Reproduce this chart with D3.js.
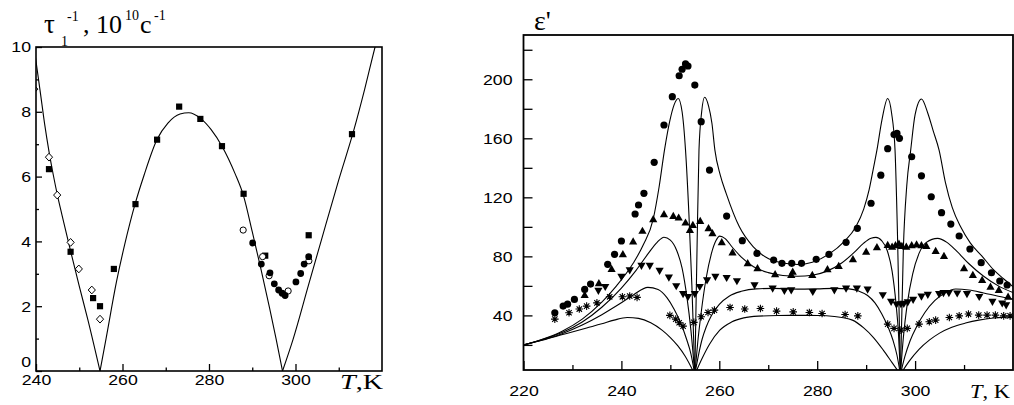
<!DOCTYPE html>
<html>
<head>
<meta charset="utf-8">
<script src="https://cdn.jsdelivr.net/npm/d3@7"></script>
<style>
  html, body { margin: 0; padding: 0; background: #fff; }
  svg { display: block; }
  text, tspan { fill: #000; }
</style>
</head>
<body>
<svg id="chart" width="1014" height="405"></svg>
<script>
// ---------- Left panel: relaxation rate tau1^-1 (10^10 s^-1) vs T (K) ----------
const tauSquares = [[243.0, 6.23], [248.0, 3.68], [253.2, 2.25], [254.8, 2.0], [258.0, 3.15], [263.0, 5.15],
  [268.0, 7.14], [273.1, 8.16], [278.0, 7.78], [283.0, 6.94], [288.0, 5.47], [293.0, 3.56], [303.05, 4.19], [313.06, 7.31]];
const tauDiamonds = [[239.6, 8.7], [243.0, 6.6], [244.9, 5.43], [248.0, 3.97], [249.9, 3.15], [252.9, 2.5], [254.8, 1.6]];
const tauOpenCircles = [[287.9, 4.35], [292.4, 3.53], [293.9, 2.94], [298.3, 2.47], [303.1, 3.40]];
const tauFilledCircles = [[290.1, 3.95], [292.1, 3.30], [294.1, 3.03], [295.1, 2.69], [296.1, 2.5], [296.9, 2.4],
  [297.6, 2.33], [300.1, 2.75], [301.2, 3.01], [302.0, 3.30], [303.05, 3.53]];
const tauFit = [[239.8, 9.75], [241, 8.6], [242, 7.62], [243, 6.78], [244, 6.05], [245, 5.4], [246, 4.82], [248, 3.7],
  [250, 2.62], [252, 1.58], [254.8, 0],
  [256.2, 1.0], [258.6, 2.75], [260.5, 3.9], [262.9, 5.15], [265, 6.05], [268, 7.15], [270.5, 7.65], [273.3, 7.93],
  [275.3, 7.97], [278.1, 7.79], [280.5, 7.45], [283, 6.94], [286, 6.1], [288, 5.4], [290, 4.3], [292, 3.15],
  [294, 1.95], [295.5, 1.0], [297, 0],
  [299.4, 0.96], [303, 2.65], [306, 4.05], [310, 5.9], [313.5, 7.44], [316, 8.7], [318.4, 10], [319, 10.3]];
const leftXTicks = [240, 260, 280, 300];
const leftXMinor = [250, 270, 290, 310];
const leftYTicks = [0, 2, 4, 6, 8, 10];
const leftYMinor = [1, 3, 5, 7, 9];

// ---------- Right panel: permittivity eps' vs T (K) ----------
const epsCircles = [[226.4, 41.8], [228.1, 46.3], [229.0, 47.6], [230.4, 50.8], [232.5, 57.6], [233.7, 61.2],
  [237.2, 74.6], [238.6, 81.4], [240.0, 90.4], [242.8, 108.7], [243.5, 114.8], [244.6, 122.7], [246.7, 143.7],
  [248.7, 169], [250.4, 188.2], [251.8, 202.4], [252.4, 206.8], [253.1, 210.4], [253.6, 209], [255.0, 196.1],
  [256.3, 171.3], [258.0, 138.5], [261.5, 107.3], [264.7, 90.6], [267.7, 82], [271.1, 77.5], [272.8, 75.3],
  [274.8, 75.3], [276.8, 75.3], [279.8, 78], [282.4, 81.4], [285.9, 89.5], [288.2, 99], [291.0, 116], [293.0, 135],
  [294.4, 153], [295.7, 162.5], [296.3, 163.3], [296.8, 160], [299.3, 147.5], [301.3, 134.6], [303.3, 120.4],
  [305.4, 109.6], [307.3, 101.9], [309.0, 93.8], [311.2, 85], [313.5, 75.7], [315.6, 68.9], [317.3, 63.3], [318.8, 60.6]];
const epsUpTriangles = [[232.5, 53.8], [235.4, 61.7], [238.0, 71.4], [240.3, 81.4], [242.4, 90], [244.3, 97.2],
  [246.5, 105.1], [248.7, 108.5], [250.6, 107.3], [251.7, 106.2], [253.1, 102.8], [254.0, 97.8], [254.6, 101.2],
  [256.1, 103.9], [257.8, 99], [258.6, 95.6], [260.5, 89.5], [262.7, 82.5], [265.8, 75.3], [267.8, 71.9],
  [271.4, 67.8], [274.7, 67.3], [275.0, 69.5], [279.0, 67.3], [282.1, 71.2], [284.4, 73.4], [287.3, 78], [290.0, 83.1],
  [292.2, 86.1], [294.4, 87.7], [295.3, 86.5], [296.0, 87.5], [296.7, 88.5], [297.3, 87], [298.2, 86.5], [299.3, 87.5],
  [300.3, 88], [301.3, 87.5], [302.3, 87], [304.2, 83.6], [305.9, 80.2], [310.0, 71.9], [311.8, 67.3], [313.7, 63.9],
  [315.4, 59.4], [317.1, 57.1], [319.0, 52.6]];
const epsDownTriangles = [[235.3, 56.7], [236.7, 59.4], [240.0, 66.2], [241.7, 70.7], [244.1, 73.7], [245.8, 73.7],
  [247.8, 70.3], [249.7, 65.8], [251.2, 59.9], [252.6, 54.5], [253.6, 52.6], [255.0, 54.5], [256.0, 59.4],
  [257.5, 63.9], [259.2, 66.2], [261.5, 65.5], [263.6, 63.3], [267.2, 60.5], [270.9, 58.3], [273.3, 56.7],
  [274.7, 57.1], [279.1, 56.0], [283.5, 57.1], [285.9, 58.3], [288.1, 58.3], [290.3, 57.6], [293.4, 53.8],
  [295.1, 49.3], [296.2, 47.5], [297.1, 47.7], [297.7, 48.0], [298.5, 49], [299.6, 50.6], [301.3, 52.9],
  [302.6, 54.0], [304.9, 54.5], [305.8, 55.3], [306.9, 55.3], [308.6, 55.0], [310.6, 54.5], [313.1, 52.6],
  [315.8, 49.3], [317.8, 48.2], [318.6, 47.0]];
const epsStars = [[226.4, 37.5], [229.3, 41.8], [231.4, 44.3], [232.9, 46.3], [235.0, 48.5], [237.6, 52.6],
  [240.2, 52.6], [241.7, 53.1], [243.2, 52.2], [249.9, 40.0], [251.1, 37.5], [251.8, 35.0], [252.6, 32.7],
  [254.8, 35.3], [256.3, 39.1], [257.7, 42.0], [259.0, 43.6], [262.2, 45.4], [265.2, 44.3], [268.4, 44.7],
  [271.7, 42.9], [275.1, 42.4], [278.4, 42.0], [281.0, 41.3], [285.7, 40.6], [288.3, 39.7], [294.4, 34.1],
  [295.7, 31.2], [297.1, 30.0], [298.4, 31.2], [300.8, 34.1], [302.9, 35.7], [304.2, 36.8], [307.0, 38.6],
  [309.0, 39.7], [310.9, 40.9], [313.0, 40.2], [314.7, 40.2], [316.4, 40.2], [318.1, 39.7], [319.4, 39.7]];

// model curves, one per frequency; each dips to zero at the two transitions
const epsFit1 = [[220, 20], [224, 24], [228, 29.5], [232, 37.5], [236, 49], [239, 60], [242.4, 75.3], [244.5, 88],
  [246.5, 105.3], [247.7, 127], [248.8, 152], [249.9, 172], [250.8, 183], [251.6, 187], [252.4, 178], [253.1, 152],
  [253.8, 108], [254.4, 60], [255, 0],
  [255.45, 85], [255.85, 152], [256.4, 178], [257.0, 187.8], [257.8, 182], [258.5, 170], [259.1, 152], [260.2, 135],
  [261.4, 122.7], [264.1, 100], [266.9, 86.6], [270, 78.5], [273, 75.5], [276, 74.5], [279, 76], [282.4, 81.5],
  [285.5, 90], [287.9, 100], [289.5, 112], [290.6, 125], [291.5, 140], [292.2, 152], [293.2, 172], [294.4, 187],
  [295.2, 177], [295.9, 152], [296.4, 95], [297, 0],
  [297.6, 85], [298.3, 128], [299.1, 152], [300, 176], [301.3, 186.6], [302.6, 177], [303.7, 165], [304.9, 152],
  [306.2, 130], [307.6, 113], [309.3, 100], [311.3, 89], [313.7, 80], [316, 71], [318, 65], [320, 59.5]];
const epsFit2 = [[220, 20], [224, 23.8], [228, 28.5], [232, 35.5], [236, 45.5], [240, 58.5], [243, 70.5],
  [245.5, 82], [247.3, 89.5], [248.7, 93], [250, 91], [251.3, 84], [252.4, 72], [253.4, 52], [254.2, 30], [255, 0],
  [255.6, 22], [256.3, 42], [257.3, 65], [258.4, 82], [259.3, 90.5], [260.1, 93.7], [261.2, 92], [262.7, 86],
  [264.5, 79.5], [267, 73], [270, 69], [273, 67], [276, 66.5], [279, 67.2], [282, 70], [285, 75.5], [287.5, 82.5],
  [289.5, 89], [291, 92.3], [292, 92.9], [293.2, 90.5], [294.3, 84], [295.3, 70], [296.1, 48], [296.6, 28], [297, 0],
  [297.6, 25], [298.4, 48], [299.5, 68], [300.8, 82], [302.3, 89.5], [304.6, 92.2], [306.5, 89.5], [308.5, 83.5],
  [311, 75], [314, 66.5], [317, 60], [320, 55.5]];
const epsFit3 = [[220, 20], [224, 23.5], [228, 27.8], [232, 33.5], [236, 40.5], [239.5, 47.5], [242.5, 54],
  [245.4, 59], [247.5, 57.5], [249.3, 52], [250.8, 44], [252.1, 35], [253.3, 24], [254.2, 14], [255, 0],
  [255.8, 14], [256.5, 24], [257.3, 32], [258.4, 40], [260, 47.5], [262, 53], [264.5, 56.3], [267.5, 58],
  [271, 58.3], [276, 57.8], [280, 58], [283.5, 58.3], [286.5, 58], [288.5, 56.5], [290.3, 53.5], [291.8, 48.5],
  [293.2, 41], [294.5, 32], [295.5, 23], [296.3, 13], [297, 0],
  [297.9, 12], [299, 23], [300.4, 33], [302, 42], [304, 50], [306, 55], [308.3, 57.9], [311, 57.2], [314, 55.2],
  [317, 53], [320, 51]];
const epsFit4 = [[220, 20], [224, 23.3], [228, 27], [232.9, 31.5], [236, 34.3], [238.5, 36.8], [241.2, 38.6],
  [243.5, 38], [246, 35], [248.3, 30], [250, 25], [251.5, 19.5], [253, 12.5], [255, 0],
  [256.5, 11], [258, 20.5], [260.1, 30], [262.5, 35.5], [265, 38.3], [268, 39.5], [272, 39.9], [276, 40],
  [280, 39.9], [283.5, 39.3], [287.2, 36.8], [289.5, 31.5], [291.5, 25], [293.5, 16.5], [295.3, 8], [297, 0],
  [298.8, 9], [300.8, 17], [302.9, 23.2], [305, 28], [307.5, 32], [310.3, 34.8], [313, 36.8], [316, 38.2],
  [318.5, 38.8], [320, 39]];
const rightXTicks = [220, 240, 260, 280, 300];
const rightXMinor = [230, 250, 270, 290, 310];
const rightYTicks = [20, 40, 60, 80, 100, 120, 140, 160, 180, 200, 220];
const rightYLabels = [40, 80, 120, 160, 200];

// ---------- drawing ----------
const svg = d3.select("#chart");
svg.append("rect").attr("width", 1014).attr("height", 405).attr("fill", "#fff");

const xL = d3.scaleLinear().domain([240, 320]).range([36, 382]);
const yL = d3.scaleLinear().domain([0, 10]).range([371, 47]);
const xR = d3.scaleLinear().domain([220, 320]).range([523.5, 1013]);
const yR = d3.scaleLinear().domain([3, 230]).range([370, 35]);

const SANS = '"Liberation Sans", Arial, sans-serif';
const SERIF = '"Liberation Serif", "Times New Roman", serif';
const STRETCH = 1.18;

function stretchLabels(sel) {
  sel.selectAll(".tick text").each(function () {
    const t = d3.select(this);
    const x = +t.attr("x") || 0;
    t.attr("transform", `translate(${x * (1 - STRETCH)},0) scale(${STRETCH},1)`);
  });
}

function drawAxis(axis, transform) {
  const g = svg.append("g").attr("transform", transform).call(axis);
  g.select(".domain").remove();
  g.attr("font-family", SANS).attr("font-size", 15);
  g.selectAll(".tick line").attr("stroke", "#000").attr("stroke-width", 1.3);
  g.selectAll(".tick text").attr("fill", "#000");
  stretchLabels(g);
  return g;
}

// split a curve into branches at its zero points so the cusps stay sharp
function branches(pts) {
  const out = [];
  let cur = [];
  pts.forEach((p, i) => {
    cur.push(p);
    if (p[1] === 0 && i > 0 && i < pts.length - 1) { out.push(cur); cur = [p]; }
  });
  out.push(cur);
  return out;
}

const defs = svg.append("defs");
defs.append("clipPath").attr("id", "clipL").append("rect")
  .attr("x", xL(240)).attr("y", yL(10)).attr("width", xL(320) - xL(240)).attr("height", yL(0) - yL(10));
defs.append("clipPath").attr("id", "clipR").append("rect")
  .attr("x", xR(220)).attr("y", yR(230)).attr("width", xR(320) - xR(220)).attr("height", yR(3) - yR(230));

// marker shapes
const square = s => `M${-s},${-s}H${s}V${s}H${-s}Z`;
const diamond = (w, h) => `M0,${-h}L${w},0L0,${h}L${-w},0Z`;
const triUp = (w, h) => `M0,${-h * 0.6}L${w},${h * 0.4}L${-w},${h * 0.4}Z`;
const triDown = (w, h) => `M0,${h * 0.6}L${w},${-h * 0.4}L${-w},${-h * 0.4}Z`;
const star = r => {
  const d = r * Math.SQRT1_2;
  return `M0,${-r}V${r}M${-r},0H${r}M${-d},${-d}L${d},${d}M${-d},${d}L${d},${-d}`;
};

function markers(g, data, xs, ys, path, fill, stroke, sw) {
  g.selectAll(null).data(data).enter().append("path")
    .attr("transform", d => `translate(${xs(d[0])},${ys(d[1])})`)
    .attr("d", path)
    .attr("fill", fill).attr("stroke", stroke).attr("stroke-width", sw);
}

// ----- left panel -----
const gL = svg.append("g").attr("clip-path", "url(#clipL)");
const lineL = d3.line().x(d => xL(d[0])).y(d => yL(d[1])).curve(d3.curveMonotoneX);
branches(tauFit).forEach(b => gL.append("path").attr("d", lineL(b))
  .attr("fill", "none").attr("stroke", "#000").attr("stroke-width", 1.1));
markers(gL, tauSquares, xL, yL, square(3.1), "#000", "none", 0);
markers(gL, tauDiamonds, xL, yL, diamond(3.6, 3.9), "#fff", "#000", 1);
markers(gL, tauOpenCircles, xL, yL, d3.symbol(d3.symbolCircle, Math.PI * 3.1 * 3.1)(), "#fff", "#000", 1);
markers(gL, tauFilledCircles, xL, yL, d3.symbol(d3.symbolCircle, Math.PI * 3.4 * 3.4)(), "#000", "none", 0);

drawAxis(d3.axisBottom(xL).tickValues(leftXTicks).tickSizeInner(-7).tickSizeOuter(0).tickPadding(3)
  .tickFormat(d3.format("d")), `translate(0,${yL(0)})`);
drawAxis(d3.axisBottom(xL).tickValues(leftXMinor).tickSizeInner(-3.5).tickSizeOuter(0).tickFormat(""),
  `translate(0,${yL(0)})`);
const yAxisL = drawAxis(d3.axisLeft(yL).tickValues(leftYTicks).tickSizeInner(-6).tickSizeOuter(0).tickPadding(5)
  .tickFormat(d3.format("d")), `translate(${xL(240)},0)`);
// the "0" label sits a little above the corner so it clears the "240" below it
yAxisL.selectAll(".tick").filter(d => d === 0).select("text").attr("y", -9).attr("dy", "0.32em");
drawAxis(d3.axisLeft(yL).tickValues(leftYMinor).tickSizeInner(-3).tickSizeOuter(0).tickFormat(""),
  `translate(${xL(240)},0)`);
svg.append("rect").attr("x", xL(240)).attr("y", yL(10)).attr("width", xL(320) - xL(240))
  .attr("height", yL(0) - yL(10)).attr("fill", "none").attr("stroke", "#000").attr("stroke-width", 1.6);

// left titles
const tl = svg.append("text").attr("font-family", SERIF).attr("fill", "#000");
tl.append("tspan").attr("x", 44).attr("y", 33).attr("font-size", 27).attr("fill", "#000").text("τ");
tl.append("tspan").attr("x", 61).attr("y", 46).attr("font-size", 14).attr("fill", "#000").text("1");
tl.append("tspan").attr("x", 67).attr("y", 21).attr("font-size", 14).attr("fill", "#000").text("-1");
tl.append("tspan").attr("x", 83).attr("y", 33).attr("font-size", 26).attr("fill", "#000").text(", 10");
tl.append("tspan").attr("x", 125).attr("y", 20).attr("font-size", 14).attr("fill", "#000").text("10");
tl.append("tspan").attr("x", 140).attr("y", 33).attr("font-size", 26).attr("fill", "#000").text("c");
tl.append("tspan").attr("x", 154).attr("y", 20).attr("font-size", 14).attr("fill", "#000").text("-1");

const tk = svg.append("text").attr("font-family", SERIF).attr("font-size", 20).attr("fill", "#000")
  .attr("x", 340).attr("y", 389).attr("textLength", 43).attr("lengthAdjust", "spacingAndGlyphs");
tk.append("tspan").attr("font-style", "italic").text("T");
tk.append("tspan").text(",K");

// ----- right panel -----
const gR = svg.append("g").attr("clip-path", "url(#clipR)");
const lineR = d3.line().x(d => xR(d[0])).y(d => yR(d[1])).curve(d3.curveMonotoneX);
[epsFit1, epsFit2, epsFit3, epsFit4].forEach(c =>
  branches(c).forEach(b => gR.append("path").attr("d", lineR(b))
    .attr("fill", "none").attr("stroke", "#000").attr("stroke-width", 1.1)));
markers(gR, epsStars, xR, yR, star(3.8), "none", "#000", 1.1);
markers(gR, epsDownTriangles, xR, yR, triDown(4.1, 7.2), "#000", "none", 0);
markers(gR, epsUpTriangles, xR, yR, triUp(4.1, 7.2), "#000", "none", 0);
markers(gR, epsCircles, xR, yR, d3.symbol(d3.symbolCircle, Math.PI * 3.6 * 3.6)(), "#000", "none", 0);

drawAxis(d3.axisBottom(xR).tickValues(rightXTicks).tickSizeInner(-9).tickSizeOuter(0).tickPadding(15)
  .tickFormat(d3.format("d")), `translate(0,${yR(3)})`);
drawAxis(d3.axisBottom(xR).tickValues(rightXMinor).tickSizeInner(-5).tickSizeOuter(0).tickFormat(""),
  `translate(0,${yR(3)})`);
drawAxis(d3.axisLeft(yR).tickValues(rightYTicks).tickSizeInner(-9).tickSizeOuter(0).tickPadding(11)
  .tickFormat(d => rightYLabels.includes(d) ? d : ""), `translate(${xR(220)},0)`);
svg.append("rect").attr("x", xR(220)).attr("y", yR(230)).attr("width", xR(320) - xR(220))
  .attr("height", yR(3) - yR(230)).attr("fill", "none").attr("stroke", "#000").attr("stroke-width", 1.8);

svg.append("text").attr("font-family", SERIF).attr("font-size", 28).attr("fill", "#000")
  .attr("x", 534).attr("y", 30).text("ε'");
const tk2 = svg.append("text").attr("font-family", SERIF).attr("font-size", 19).attr("fill", "#000")
  .attr("x", 970).attr("y", 398).attr("textLength", 40).attr("lengthAdjust", "spacingAndGlyphs");
tk2.append("tspan").attr("font-style", "italic").text("T");
tk2.append("tspan").text(", K");
</script>
</body>
</html>
